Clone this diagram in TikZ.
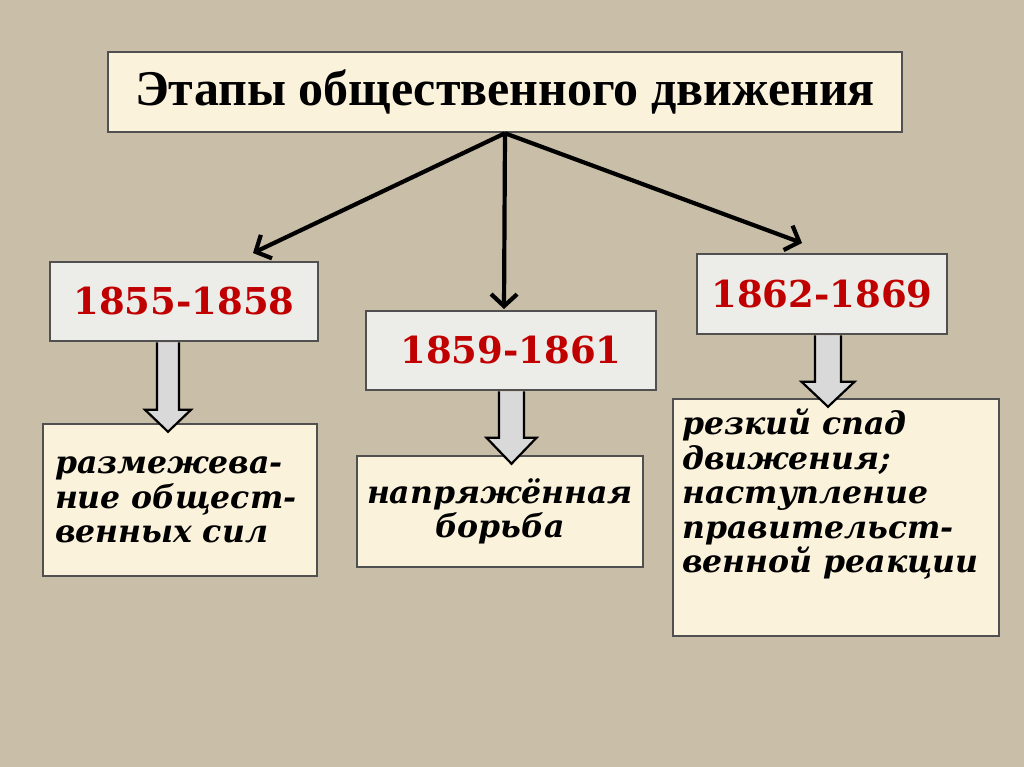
\documentclass[tikz,border=0pt]{standalone}
\usepackage{fontspec}
\setmainfont{DejaVu Serif}
\newfontfamily\titlefont{Liberation Serif}
\usetikzlibrary{arrows.meta,calc}
\definecolor{bg}{RGB}{201,190,168}
\definecolor{cream}{RGB}{251,242,220}
\definecolor{greybox}{RGB}{236,236,233}
\definecolor{bord}{RGB}{80,80,80}
\definecolor{yearred}{RGB}{192,0,0}
\definecolor{arrfill}{RGB}{217,217,217}
\newcommand{\blockarrow}[6]{%
  \coordinate (bx) at (#1,0);
  \coordinate (btop) at (bx |- #2.south);
  \coordinate (btip) at ($(bx |- #3.north)+(0,9)$);
  \draw[blockarr] ($(btop)+(-#4,0)$) -- ($(btip)+(-#4,-#6)$) -- ($(btip)+(-#5,-#6)$) -- (btip)
     -- ($(btip)+(#5,-#6)$) -- ($(btip)+(#4,-#6)$) -- ($(btop)+(#4,0)$);
}
\begin{document}
\begin{tikzpicture}[x=1pt,y=-1pt,
  box/.style={draw=bord, line width=2.5pt, inner sep=0pt},
  titlebox/.style={box, fill=cream, minimum width=794pt, minimum height=80pt,
    font=\titlefont\bfseries\fontsize{50}{54}\selectfont},
  yearbox/.style={box, fill=greybox, text=yearred, font=\bfseries\fontsize{37}{42}\selectfont},
  textbox/.style={box, fill=cream},
  bodytext/.style={inner sep=0pt, font=\bfseries\itshape\fontsize{31.5}{34.5}\selectfont},
  thinarrow/.style={line width=4.2pt, -{Straight Barb[length=12pt,width=26pt,line width=4.2pt]}},
  blockarr/.style={fill=arrfill, draw=black, line width=2.2pt, line join=miter}]

\fill[bg] (0,0) rectangle (1024,767);
\useasboundingbox (0,0) rectangle (1024,767);

\node[titlebox] (title) at (505,92) {Этапы общественного движения};

\node[yearbox, minimum width=268pt, minimum height=79pt] (y1) at (184,301.5) {1855-1858};
\node[yearbox, minimum width=290pt, minimum height=79pt] (y2) at (511,350.5) {1859-1861};
\node[yearbox, minimum width=250pt, minimum height=80pt] (y3) at (822,294) {1862-1869};

\node[textbox, bodytext, minimum width=274pt, minimum height=152pt, text width=250pt, align=left] (t1) at (180,500)
  {размежева-\\ние общест-\\венных сил};
\node[textbox, bodytext, minimum width=286pt, minimum height=111pt, text width=280pt, align=center] (t2) at (500,511.5)
  {напряжённая\\борьба};
\node[textbox, minimum width=326pt, minimum height=237pt] (t3) at (836,517.5) {};
\node[bodytext, anchor=north west, align=left] (t3text) at (682,409)
  {резкий спад\\движения;\\наступление\\правительст-\\венной реакции};

\coordinate (tip1) at (253,253);
\coordinate (tip2) at (504,309);
\coordinate (tip3) at (802,243);
\draw[thinarrow] (title.south) -- (tip1);
\draw[thinarrow] (title.south) -- (tip2);
\draw[thinarrow] (title.south) -- (tip3);

\blockarrow{168}{y1}{t1}{11}{23}{22}
\blockarrow{511.5}{y2}{t2}{12.5}{25}{26}
\blockarrow{828}{y3}{t3}{13}{26.5}{25}
\end{tikzpicture}
\end{document}
